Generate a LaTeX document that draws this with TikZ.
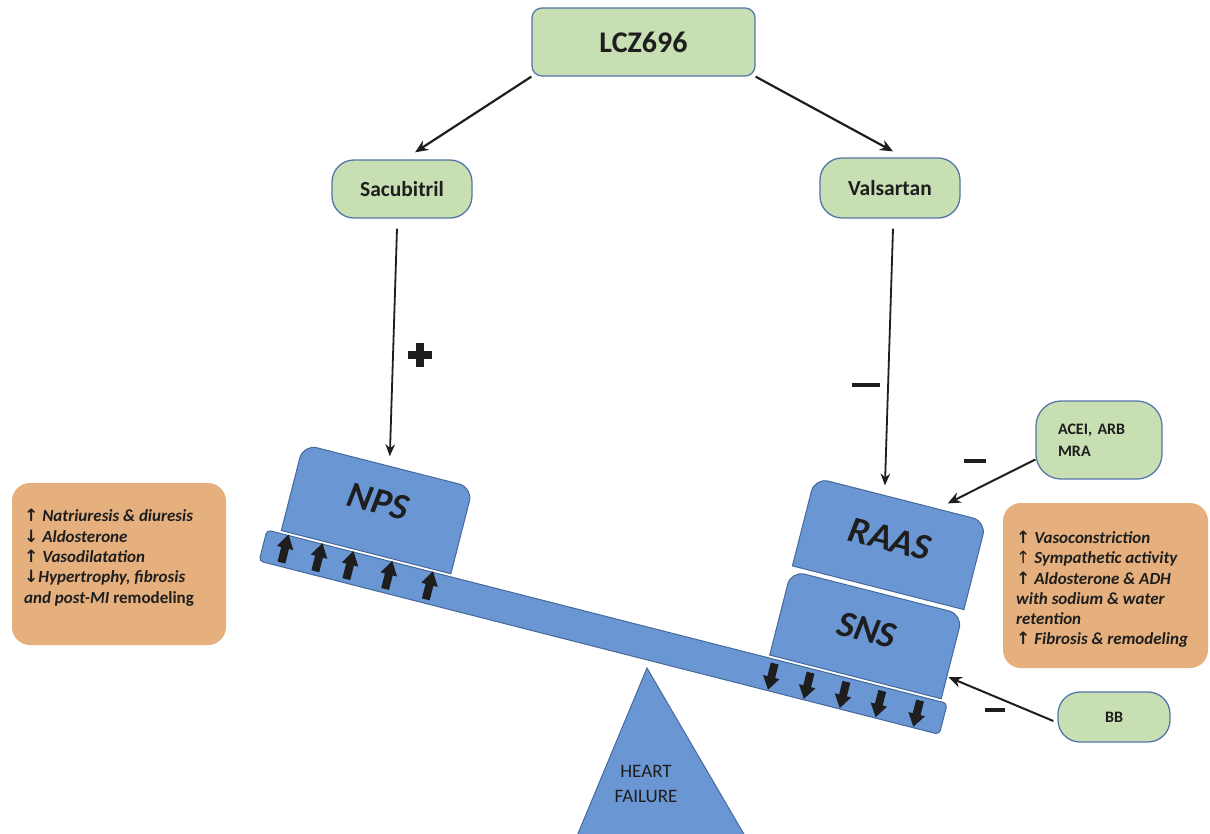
\documentclass[tikz,border=0pt]{standalone}
\usepackage{fontspec}
\setmainfont{Carlito}
\newfontfamily\symf{DejaVu Sans}
\usetikzlibrary{arrows.meta,calc}

\definecolor{gfill}{HTML}{C8DFB3}
\definecolor{gline}{HTML}{5676A8}
\definecolor{bfill}{HTML}{6A96D3}
\definecolor{bline}{HTML}{45699C}
\definecolor{ofill}{HTML}{E5B07D}
\definecolor{ink}{HTML}{1E1E1E}

% block arrows lying across the beam (local beam coordinates)
\newcommand\beamup[1]{\fill[ink] ({#1-4},28) -- ({#1-4},13) -- ({#1-8.5},13) -- (#1,-1) -- ({#1+8.5},13) -- ({#1+4},13) -- ({#1+4},28) -- cycle;}
\newcommand\beamdown[1]{\fill[ink] ({#1-4},4) -- ({#1-4},18) -- ({#1-8.5},18) -- (#1,31) -- ({#1+8.5},18) -- ({#1+4},18) -- ({#1+4},4) -- cycle;}

\begin{document}
\begin{tikzpicture}[x=1pt,y=-1pt,
  gbox/.style={draw=gline, fill=gfill, line width=1.3pt, text=ink, font=\bfseries},
  obox/.style={fill=ofill, draw=none},
  blk/.style={draw=bline, fill=bfill, line width=1pt},
  otext/.style={anchor=north west, align=left, text=ink, inner sep=0pt, font=\fontsize{17}{20.4}\selectfont\bfseries\itshape},
  boxlabel/.style={text=ink, transform shape, font=\fontsize{37}{37}\selectfont\bfseries\itshape},
  thick arrow/.style={draw=ink, line width=2.2pt, -{Stealth[length=13pt,width=11pt]}},
  thin arrow/.style={draw=ink, line width=1.8pt, -{Stealth[length=12pt,width=9.5pt]}},
  sign/.style={inner sep=0pt, text=ink}
]
\useasboundingbox (0,0) rectangle (1210,833);

% drug boxes
\node[gbox, minimum width=223pt, minimum height=68pt, rounded corners=10pt,
      font=\bfseries\fontsize{30}{34}\selectfont] (lcz) at (643.5,42) {LCZ696};
\node[gbox, minimum width=140pt, minimum height=58pt, rounded corners=22pt,
      font=\bfseries\fontsize{21.5}{24}\selectfont] (sac) at (402,189) {Sacubitril};
\node[gbox, minimum width=140pt, minimum height=60pt, rounded corners=22pt,
      font=\bfseries\fontsize{21.5}{24}\selectfont] (val) at (890,188) {Valsartan};
\node[gbox, minimum width=126pt, minimum height=78pt, rounded corners=25pt,
      text width=82pt, align=left,
      font=\bfseries\fontsize{16}{22}\selectfont] (acei) at (1099,440) {ACEI, ARB\\MRA};
\node[gbox, minimum width=112pt, minimum height=50pt, rounded corners=22pt,
      font=\bfseries\fontsize{16}{18}\selectfont] (bb) at (1114,717) {BB};

% effect boxes
\node[obox, minimum width=214pt, minimum height=162pt, rounded corners=18pt] (lbox) at (119,564) {};
\node[otext] (ltext) at (24,509) {%
  {\symf\bfseries ↑} Natriuresis \& diuresis\\
  {\symf\bfseries ↓} Aldosterone\\
  {\symf\bfseries ↑} Vasodilatation\\
  {\symf\bfseries ↓}Hypertrophy, fibrosis\\
  and post-MI {\upshape remodeling}};
\node[obox, minimum width=205pt, minimum height=165pt, rounded corners=18pt] (rbox) at (1105.5,585.5) {};
\node[otext, font=\fontsize{17}{20.2}\selectfont\bfseries\itshape] (rtext) at (1016,531) {%
  {\symf\bfseries ↑} Vasoconstriction\\
  {\symf\mdseries ↑} Sympathetic activity\\
  {\symf\bfseries ↑} Aldosterone \& ADH\\
  with sodium \& water\\
  retention\\
  {\symf\bfseries ↑} Fibrosis \& remodeling};

% fulcrum
\draw[blk] (647,668) -- (745,836) -- (577,836) -- cycle;
\node[text=ink, align=center, font=\fontsize{19}{25}\selectfont] (hf) at (646,784) {HEART\\FAILURE};

% tilted beam with the systems resting on it
\begin{scope}[shift={(267,530)}, rotate=-14.3]
  \draw[blk, rounded corners=4pt] (0,0) rectangle (702,32);
  % NPS
  \draw[blk] (14,-3) -- (14,-50) [rounded corners=14pt] -- (14,-92) -- (189,-92) -- (189,-50) [sharp corners] -- (189,-3) -- cycle;
  \node[boxlabel] (nps) at (101,-55) {NPS};
  \coordinate (npsTop) at (103,-92);
  % SNS
  \draw[blk] (518,-3) -- (518,-50) [rounded corners=14pt] -- (518,-90) -- (695,-90) -- (695,-50) [sharp corners] -- (695,-3) -- cycle;
  \node[boxlabel] (sns) at (606,-51) {SNS};
  \coordinate (snsSide) at (695,-26);
  % RAAS
  \draw[blk] (518,-95) -- (518,-140) [rounded corners=14pt] -- (518,-186) -- (695,-186) -- (695,-140) [sharp corners] -- (695,-95) -- cycle;
  \node[boxlabel] (raas) at (606,-145) {RAAS};
  \coordinate (raasTop) at (590,-186);
  \coordinate (raasCorner) at (644,-186);
  % arrows inside the beam
  \beamup{22}\beamup{57}\beamup{89}\beamup{129}\beamup{171}
  \beamdown{525}\beamdown{562}\beamdown{599}\beamdown{636}\beamdown{675}
\end{scope}

% connectors
\draw[thick arrow] (lcz.south west) -- ([xshift=13pt,yshift=7pt]sac.north);
\draw[thick arrow] (lcz.south east) -- ([xshift=3pt,yshift=6pt]val.north);
\draw[thin arrow, shorten >=10pt] ([xshift=-5pt,yshift=-10pt]sac.south) -- (npsTop);
\draw[thin arrow, shorten >=10pt] ([xshift=3pt,yshift=-10pt]val.south) -- (raasTop);
\draw[thick arrow, line width=2pt, shorten >=12pt] (acei.197) -- (raasCorner);
\draw[thick arrow, line width=2pt, shorten >=2pt] ([xshift=-4pt,yshift=-4pt]bb.west) -- (snsSide);

% signs
\node[sign] (plus) at (420,355) {\makebox[0pt]{\rule[-12pt]{8.5pt}{24pt}}\makebox[0pt]{\rule[-4.25pt]{24pt}{8.5pt}}};
\node[sign] (m1) at (866,385) {\rule{28pt}{3.5pt}};
\node[sign] (m2) at (975,461) {\rule{22pt}{4pt}};
\node[sign] (m3) at (995,710) {\rule{20pt}{3.5pt}};
\end{tikzpicture}
\end{document}
